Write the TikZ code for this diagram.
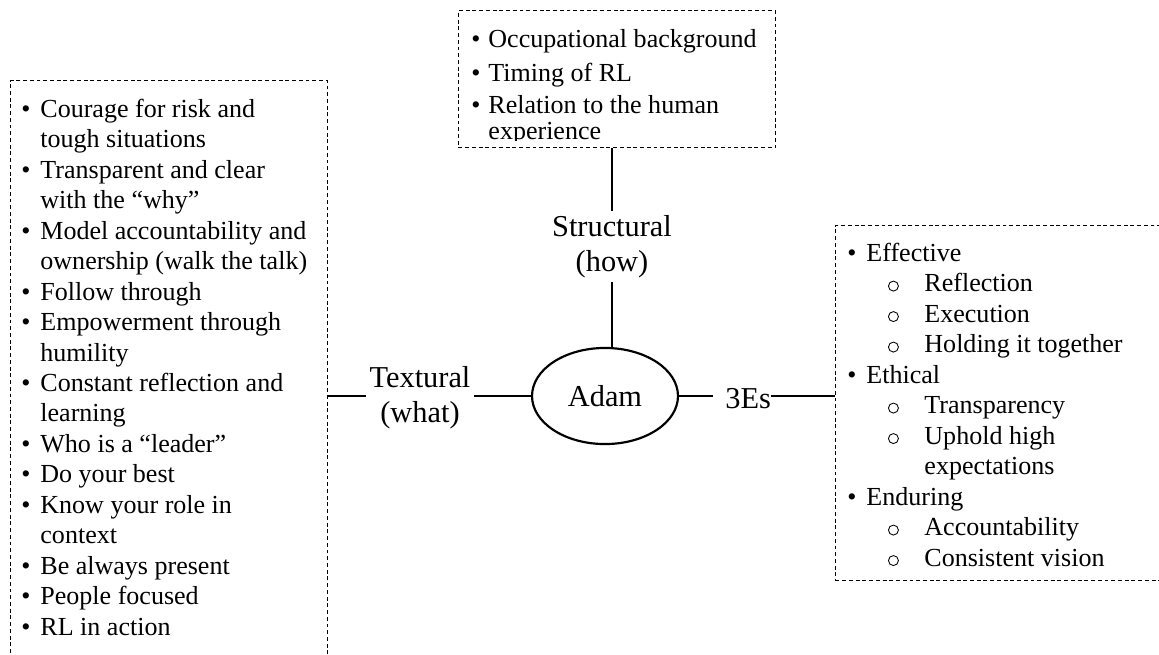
\documentclass[tikz,border=0pt]{standalone}
\usepackage{fontspec}
\setmainfont{Liberation Serif}
\usetikzlibrary{shapes.geometric}

% list markers: bullet column, hanging indent, and open-circle sub items
\newcommand\bul[1][8.76pt]{\makebox[#1][l]{\textbullet}}
\newcommand\ind[1][8.76pt]{\hspace*{#1}}
\newcommand\subi{\makebox[35.5pt][l]{\hspace*{18.7pt}\tikz[baseline=0pt]
  \draw[line width=0.4pt] (2.5pt,2.5pt) circle[radius=2.3pt];}}

\begin{document}
\begin{tikzpicture}[x=0.461pt,y=-0.461pt,
  listbox/.style={draw, line width=0.5pt, dash pattern=on 1.8pt off 1.3pt,
    inner sep=0, anchor=north west},
  listtext/.style={inner sep=0, anchor=base west,
    font=\fontsize{12pt}{14.06pt}\selectfont},
  lab/.style={inner sep=0, font=\fontsize{14pt}{16.3pt}\selectfont},
  link/.style={line width=0.9pt}]
\useasboundingbox (0,0) rectangle (1159,654);
\fill[white] (0,0) rectangle (1159,654);
\clip (0,0) rectangle (1159,654);

% dashed frames
\node[listbox, minimum width=146.1pt, minimum height=285.8pt] (lbox) at (10,80) {};
\node[listbox, minimum width=146.1pt, minimum height=63.2pt] (tbox) at (458,10) {};
\node[listbox, minimum width=154.4pt, minimum height=163.7pt] (rbox) at (835,225) {};

% textural list
\node[listtext] (llist) at (21,117) {\begin{tabular}[t]{@{}l@{}}
\bul Courage for risk and\\
\ind tough situations\\
\bul Transparent and clear\\
\ind with the “why”\\
\bul Model accountability and\\
\ind ownership (walk the talk)\\
\bul Follow through\\
\bul Empowerment through\\
\ind humility\\
\bul Constant reflection and\\
\ind learning\\
\bul Who is a “leader”\\
\bul Do your best\\
\bul Know your role in\\
\ind context\\
\bul Be always present\\
\bul People focused\\
\bul RL in action
\end{tabular}};

% structural list, cut off at the frame bottom
\begin{scope}
\clip (458,10) rectangle (775,140);
\node[listtext] (t1) at (471,47) {\bul[7.84pt]Occupational background};
\node[listtext] (t2) at (471,81) {\bul[7.84pt]Timing of RL};
\node[listtext] (t3) at (471,113) {\bul[7.84pt]Relation to the human};
\node[listtext] (t4) at (471,139) {\ind[7.84pt]experience};
\end{scope}

% 3Es list
\node[listtext] (rlist) at (847,261) {\begin{tabular}[t]{@{}l@{}}
\bul Effective\\
\subi Reflection\\
\subi Execution\\
\subi Holding it together\\
\bul Ethical\\
\subi Transparency\\
\subi Uphold high\\
\hspace*{35.5pt}expectations\\
\bul Enduring\\
\subi Accountability\\
\subi Consistent vision
\end{tabular}};

% centre and branch labels
\node[lab, draw, ellipse, line width=1pt, minimum width=67.3pt,
  minimum height=44.3pt] (adam) at (605,396) {Adam};
\node[lab, anchor=base, inner xsep=1.6pt] (tex) at (420,387)
  {\begin{tabular}[t]{@{}c@{}}Textural\\(what)\end{tabular}};
\node[lab, anchor=base] (str) at (612,236)
  {\begin{tabular}[t]{@{}c@{}}Structural\\(how)\end{tabular}};
\node[lab, anchor=base west] (es) at (725,408) {3Es};

% connectors
\draw[link] (lbox.east |- adam.west) -- (adam.west -| tex.west);
\draw[link] (adam.west -| tex.east) -- (adam.west);
\draw[link] (adam.east) -- ([xshift=-5.5pt]es.west |- adam.east);
\draw[link] (es.east |- adam.east) -- (rbox.west |- adam.east);
\draw[link] (str.north) -- (str.north |- tbox.south);
\draw[link] (str.south) -- (adam.north -| str.south);
\end{tikzpicture}
\end{document}
